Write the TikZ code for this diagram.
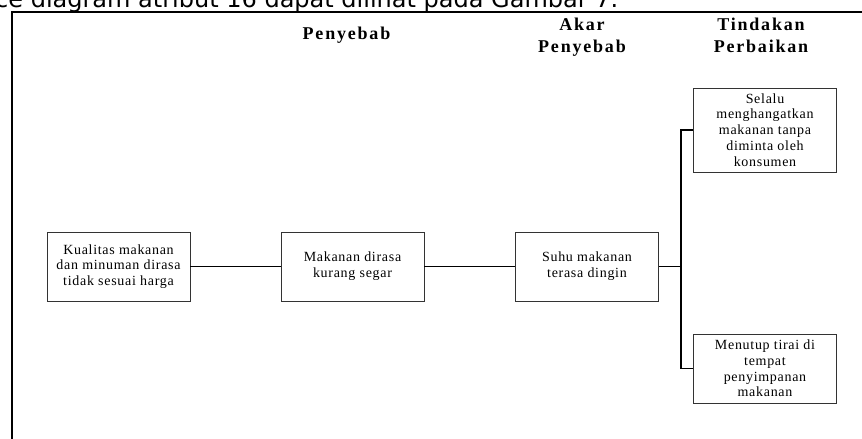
\documentclass[tikz,border=0pt]{standalone}
\usepackage{fontspec}
\setmainfont{Liberation Serif}
\newfontfamily\headfont[LetterSpace=10, BoldFont={Liberation Serif Bold}]{Liberation Serif}
\newfontfamily\boxfont[LetterSpace=5]{Liberation Serif}
\newfontfamily\captionfont{DejaVu Sans}
\begin{document}
\begin{tikzpicture}[x=1pt,y=1pt,
  causebox/.style={draw=black!80, line width=0.8pt, minimum width=143pt,
    minimum height=69pt, align=center, inner sep=2pt,
    font=\boxfont\fontsize{14pt}{15.8pt}\selectfont},
  headlabel/.style={align=center, font=\headfont\bfseries\fontsize{18pt}{22pt}\selectfont},
  link/.style={draw=black, line width=1.3pt},
  frameline/.style={draw=black, line width=2pt}]
\useasboundingbox (0,0) rectangle (862,-439);

% running text above the frame
\node[anchor=base west, inner sep=0pt, font=\captionfont\fontsize{24pt}{28pt}\selectfont]
  (caption) at (-5,-7) {ce diagram atribut 16 dapat dilihat pada Gambar 7.};

% frame
\draw[frameline] (11.5,-450) -- (11.5,-12) -- (870,-12);

% column headings (base anchor sits on the last line)
\node[headlabel, anchor=base] (h1) at (346.5,-39) {Penyebab};
\node[headlabel, anchor=base] (h2) at (582,-52) {Akar\\Penyebab};
\node[headlabel, anchor=base] (h3) at (761,-52) {Tindakan\\Perbaikan};

% boxes
\node[causebox] (problem) at (118.5,-266.5) {Kualitas makanan\\dan minuman dirasa\\tidak sesuai harga};
\node[causebox] (cause) at (352.5,-266.5) {Makanan dirasa\\kurang segar};
\node[causebox] (root) at (587,-266.5) {Suhu makanan\\terasa dingin};
\node[causebox, minimum height=84pt] (act1) at (765,-130) {Selalu\\menghangatkan\\makanan tanpa\\diminta oleh\\konsumen};
\node[causebox] (act2) at (765,-368.5) {Menutup tirai di\\tempat\\penyimpanan\\makanan};

% connectors
\coordinate (fork) at (681,-266.5);
\draw[link] (problem) -- (cause);
\draw[link] (cause) -- (root);
\draw[link] (root) -- (fork);
\draw[link] (act1.west) -| (fork) |- (act2.west);
\end{tikzpicture}
\end{document}
